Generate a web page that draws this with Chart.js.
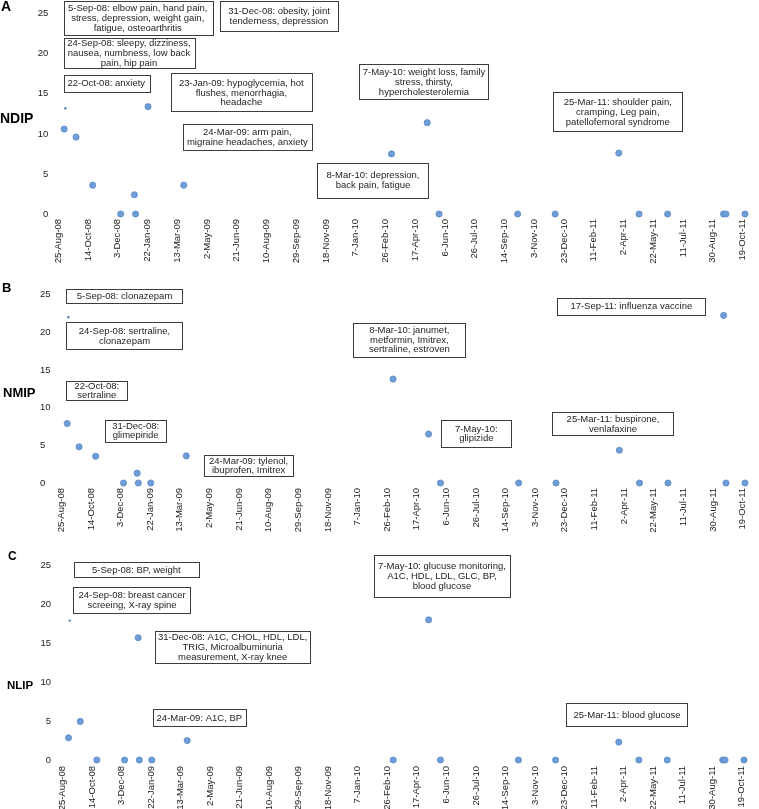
<!DOCTYPE html>
<html>
<head>
<meta charset="utf-8">
<script src="https://cdn.jsdelivr.net/npm/chart.js@4.4.0/dist/chart.umd.min.js"></script>
<style>
  html, body { margin: 0; padding: 0; background: #fff; }
  body { width: 759px; height: 809px; position: relative; overflow: hidden; font-family: Arial, "Liberation Sans", sans-serif; }
  .panel { position: absolute; left: 0; width: 759px; }
  .lbl { position: absolute; font-weight: bold; color: #000; line-height: 16px; white-space: nowrap; }
</style>
</head>
<body>
<div class="panel" style="top:-2px;height:266px"><canvas id="chartA"></canvas></div>
<div class="panel" style="top:279px;height:254px"><canvas id="chartB"></canvas></div>
<div class="panel" style="top:548px;height:262px"><canvas id="chartC"></canvas></div>

<div class="lbl" style="left:1px;top:-2px;font-size:14px">A</div>
<div class="lbl" style="left:0px;top:110px;font-size:14px">NDIP</div>
<div class="lbl" style="left:2px;top:280px;font-size:13px">B</div>
<div class="lbl" style="left:3px;top:385px;font-size:13px">NMIP</div>
<div class="lbl" style="left:8px;top:548px;font-size:12px">C</div>
<div class="lbl" style="left:7px;top:677px;font-size:11.5px">NLIP</div>

<script>
var tickLabels = ['25-Aug-08','14-Oct-08','3-Dec-08','22-Jan-09','13-Mar-09','2-May-09','21-Jun-09',
  '10-Aug-09','29-Sep-09','18-Nov-09','7-Jan-10','26-Feb-10','17-Apr-10','6-Jun-10','26-Jul-10',
  '14-Sep-10','3-Nov-10','23-Dec-10','11-Feb-11','2-Apr-11','22-May-11','11-Jul-11','30-Aug-11','19-Oct-11']

var visitDates = ['4-Sep-08','24-Sep-08','22-Oct-08','8-Dec-08','31-Dec-08','2-Jan-09','23-Jan-09','24-Mar-09',
  '8-Mar-10','7-May-10','27-May-10','6-Oct-10','8-Dec-10','25-Mar-11','28-Apr-11','15-Jun-11',
  '17-Sep-11','21-Sep-11','23-Oct-11']

var ndip = [10.6, 9.6, 3.6, 0, 2.4, 0, 13.4, 3.6, 7.5, 11.4, 0, 0, 0, 7.6, 0, 0, 0, 0, 0]
var nmip = [7.9, 4.8, 3.55, 0, 1.3, 0, 0, 3.6, 13.8, 6.5, 0, 0, 0, 4.35, 0, 0, 22.25, 0, 0]
var nlip = [2.85, 4.95, 0, 0, 15.7, 0, 0, 2.5, 0, 18, 0, 0, 0, 2.3, 0, 0, 0, 0, 0]

// marks that are almost hidden in the original (just a sliver shows)
var hiddenDate = '6-Sep-08'
var hiddenValues = { A: 13.2, B: 22, C: 17.9 }

var notesA = [
  ['5-Sep-08: elbow pain, hand pain,', 'stress, depression, weight gain,', 'fatigue, osteoarthritis'],
  ['31-Dec-08: obesity, joint', 'tenderness, depression'],
  ['24-Sep-08: sleepy, dizziness,', 'nausea, numbness, low back', 'pain, hip pain'],
  ['22-Oct-08: anxiety'],
  ['23-Jan-09: hypoglycemia, hot', 'flushes, menorrhagia,', 'headache'],
  ['24-Mar-09: arm pain,', 'migraine headaches, anxiety'],
  ['8-Mar-10: depression,', 'back pain, fatigue'],
  ['7-May-10: weight loss, family', 'stress, thirsty,', 'hypercholesterolemia'],
  ['25-Mar-11: shoulder pain,', 'cramping, Leg pain,', 'patellofemoral syndrome']
]
var notesB = [
  ['5-Sep-08: clonazepam'],
  ['24-Sep-08: sertraline,', 'clonazepam'],
  ['22-Oct-08:', 'sertraline'],
  ['31-Dec-08:', 'glimepiride'],
  ['24-Mar-09: tylenol,', 'ibuprofen, Imitrex'],
  ['8-Mar-10: janumet,', 'metformin, Imitrex,', 'sertraline, estroven'],
  ['17-Sep-11: influenza vaccine'],
  ['7-May-10:', 'glipizide'],
  ['25-Mar-11: buspirone,', 'venlafaxine']
]
var notesC = [
  ['5-Sep-08: BP, weight'],
  ['24-Sep-08: breast cancer', 'screeing, X-ray spine'],
  ['31-Dec-08: A1C, CHOL, HDL, LDL,', 'TRIG, Microalbuminuria', 'measurement, X-ray knee'],
  ['24-Mar-09: A1C, BP'],
  ['7-May-10: glucuse monitoring,', 'A1C, HDL, LDL, GLC, BP,', 'blood glucose'],
  ['25-Mar-11: blood glucose']
]

// callout boxes, page pixels: x, y, w, h
var boxesA = [[63.5,1,148.5,34],[220,1,118,30],[63.5,37.7,131,30],[63.5,75,85.5,16.7],[171,73.3,140.7,38.4],
  [183,124.3,128.7,25.7],[317.3,162.7,111.4,34.6],[359.3,64,129.4,35.3],[553.3,92.3,129,39]]
var boxesB = [[66.3,289,116.4,14.3],[66.3,322.3,116.4,27],[66.3,381,61,19],[105.3,419.7,60.7,21.6],[204,455.3,89.3,20.7],
  [353.3,322.7,112,34],[557.3,297.7,148,17.3],[441.3,420,70,26.7],[552.3,412.3,121.4,23.4]]
var boxesC = [[74,562.3,124.7,15],[73.3,586.7,117.4,26],[155.3,631,154.7,32.3],[153,709.3,92.7,17.4],
  [374,554.7,136,42],[566.3,703.3,121.4,23.4]]

var MONTHS = ['Jan','Feb','Mar','Apr','May','Jun','Jul','Aug','Sep','Oct','Nov','Dec']
function toUTC(s){
    var p = s.split('-')
    return Date.UTC(2000 + Number(p[2]), MONTHS.indexOf(p[1]), Number(p[0]))
}
var start = toUTC(tickLabels[0])
function dayNum(s){
    return (toUTC(s) - start) / 86400000
}

function notesPlugin(notes, boxes, top, lineH){
    return {
        id: 'notes',
        afterDraw: function(chart){
            var ctx = chart.ctx
            ctx.save()
            ctx.font = '9.5px Arial, "Liberation Sans", sans-serif'
            ctx.textAlign = 'center'
            ctx.textBaseline = 'middle'
            boxes.forEach(function(b, i){
                var x = b[0], y = b[1] - top, w = b[2], h = b[3]
                ctx.fillStyle = '#fff'
                ctx.fillRect(x, y, w, h)
                ctx.strokeStyle = '#3c3c3c'
                ctx.lineWidth = 1
                ctx.strokeRect(Math.round(x) + 0.5, Math.round(y) + 0.5, Math.round(w), Math.round(h))
                ctx.fillStyle = '#1e1e1e'
                var lines = notes[i]
                var cy = y + h / 2
                lines.forEach(function(ln, k){
                    ctx.fillText(ln, x + w / 2, cy + (k - (lines.length - 1) / 2) * lineH + 0.5)
                })
            })
            ctx.restore()
        }
    }
}

var tickFont = { family: 'Arial, "Liberation Sans", sans-serif', size: 9.5 }

function makeChart(id, values, hidden, notes, boxes, cfg){
    var pts = visitDates.map(function(d, i){ return { x: dayNum(d), y: values[i] } })
    return new Chart(document.getElementById(id), {
        type: 'scatter',
        data: {
            datasets: [
                { data: pts, pointRadius: 3.1, backgroundColor: '#6e9dd8', borderColor: '#5384c2', borderWidth: 0.7, clip: false },
                { data: [{ x: dayNum(hiddenDate), y: hidden }], pointRadius: 1.2, backgroundColor: '#4f80bd', borderWidth: 0, clip: false }
            ]
        },
        options: {
            responsive: true,
            maintainAspectRatio: false,
            animation: false,
            events: [],
            layout: { padding: { left: cfg.padLeft, right: cfg.padRight, top: 7, bottom: 0 } },
            plugins: { legend: { display: false }, tooltip: { enabled: false } },
            scales: {
                x: {
                    type: 'linear', min: 0, max: dayNum(tickLabels[tickLabels.length - 1]),
                    grid: { display: false, drawTicks: false },
                    border: { display: false },
                    afterBuildTicks: function(s){ s.ticks = tickLabels.map(function(t){ return { value: dayNum(t) } }) },
                    afterFit: function(s){ s.height = 50 },
                    ticks: {
                        autoSkip: false, minRotation: 90, maxRotation: 90, padding: cfg.xPad,
                        color: '#222', font: tickFont,
                        callback: function(v, i){ return tickLabels[i] }
                    }
                },
                y: {
                    min: 0, max: 25,
                    grid: { display: false, drawTicks: false },
                    border: { display: false },
                    afterFit: function(s){ s.width = cfg.yWidth },
                    ticks: { stepSize: 5, padding: cfg.yPad, crossAlign: cfg.yAlign, color: '#222', font: tickFont }
                }
            }
        },
        plugins: [notesPlugin(notes, boxes, cfg.top, cfg.lineH)]
    })
}

makeChart('chartA', ndip, hiddenValues.A, notesA, boxesA,
    { top: -2, padLeft: 10, yWidth: 48.2, padRight: 10.8, yPad: 10, yAlign: 'near', xPad: 5, lineH: 9.8 })
makeChart('chartB', nmip, hiddenValues.B, notesB, boxesB,
    { top: 279, padLeft: 40, yWidth: 21.3, padRight: 7.7, yPad: 10, yAlign: 'far', xPad: 5, lineH: 9.4 })
makeChart('chartC', nlip, hiddenValues.C, notesC, boxesC,
    { top: 548, padLeft: 11.6, yWidth: 51, padRight: 6.4, yPad: 11.6, yAlign: 'near', xPad: 6, lineH: 10.1 })
</script>
</body>
</html>
